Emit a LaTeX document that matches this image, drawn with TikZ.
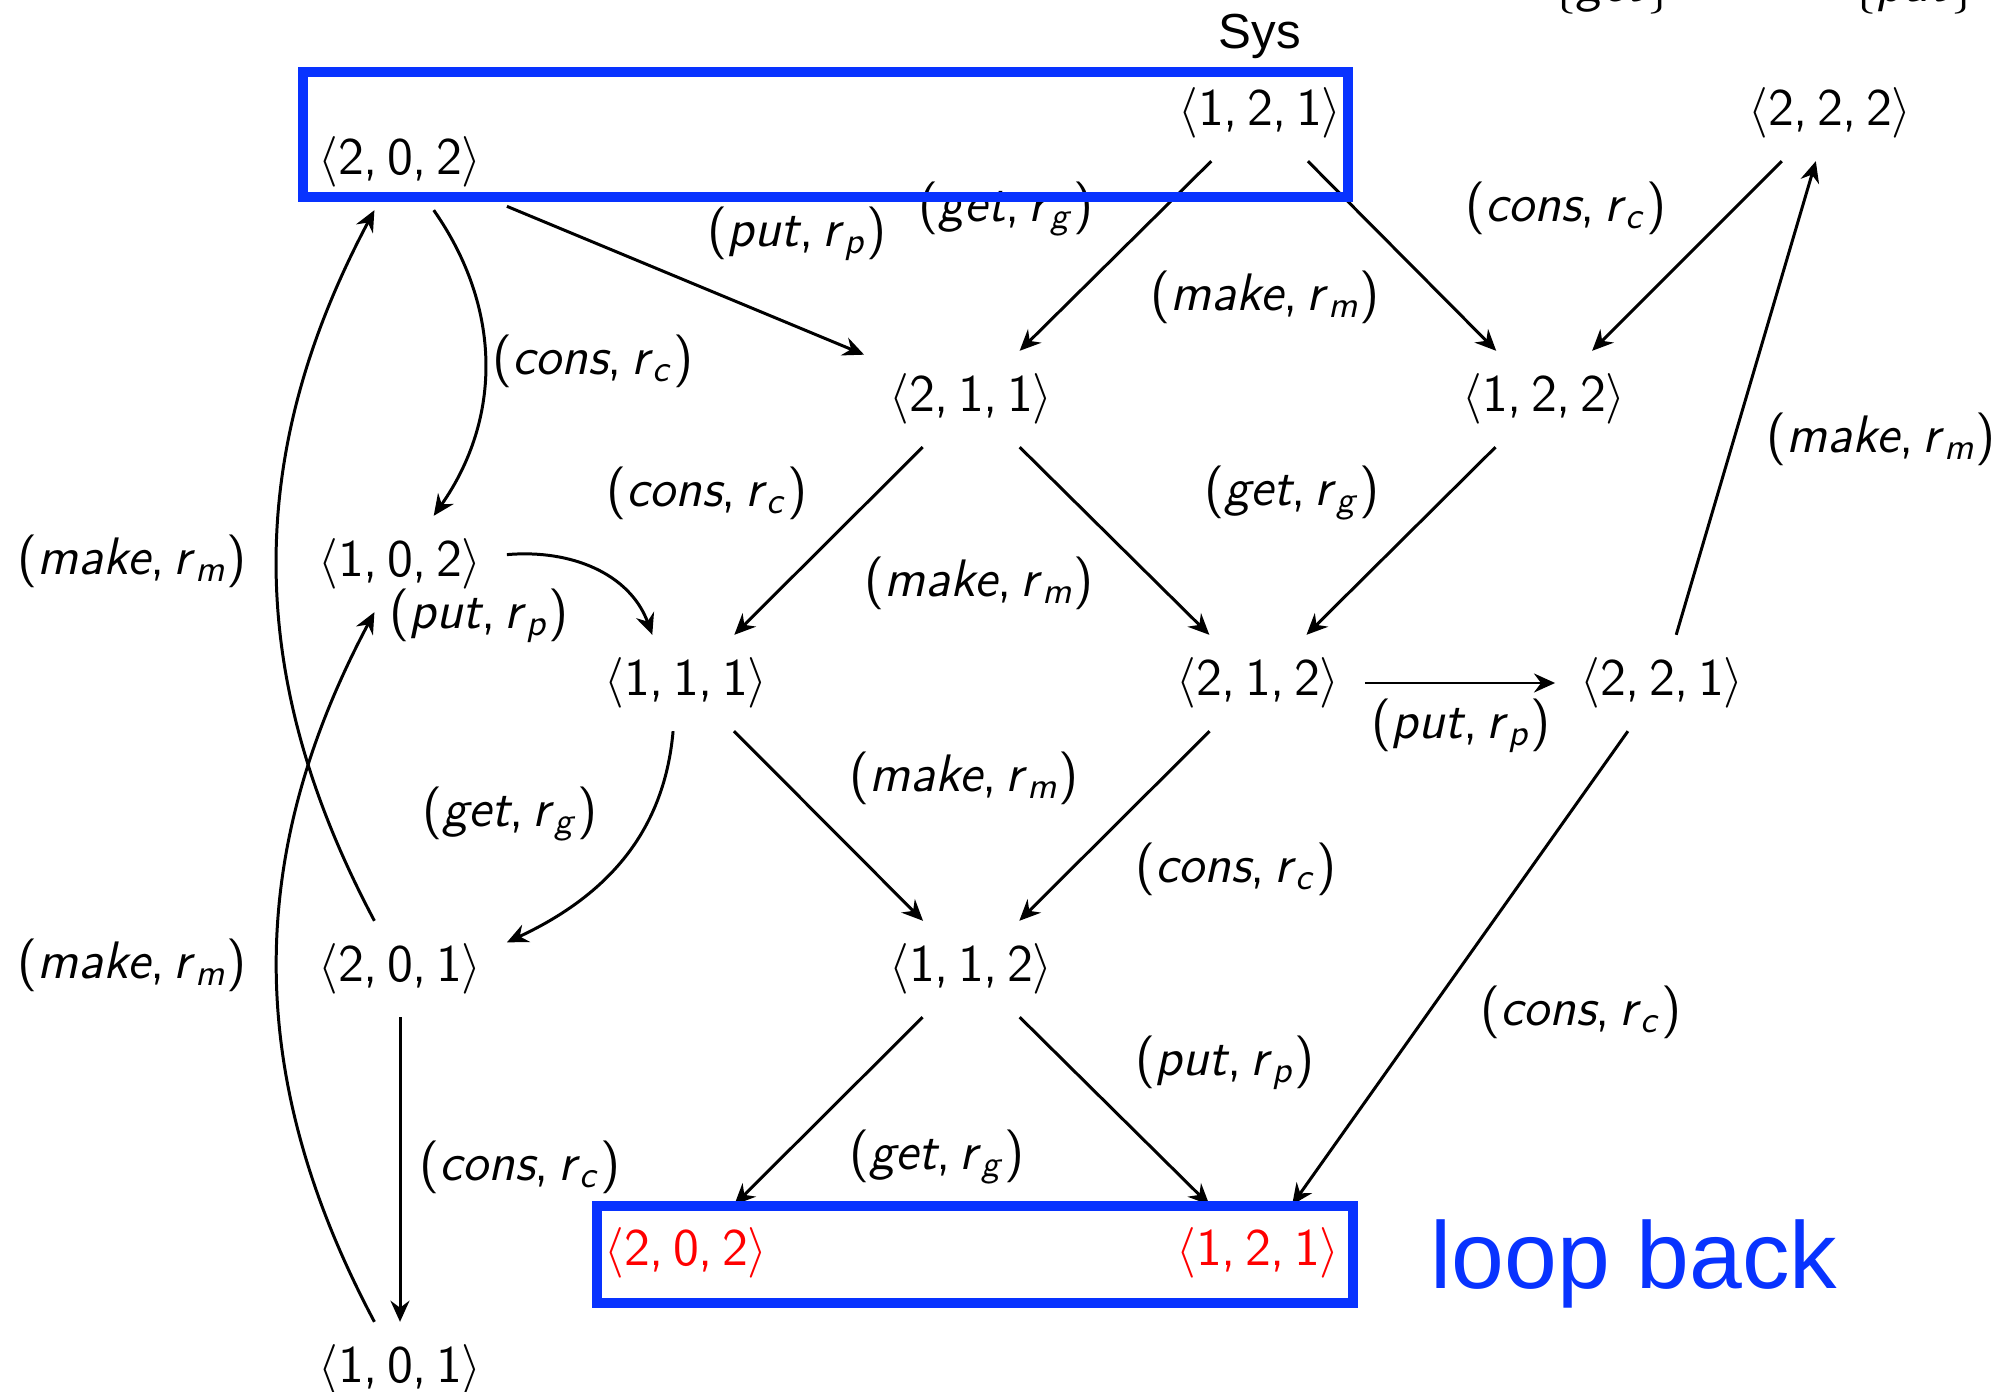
\documentclass[tikz,border=0pt]{standalone}
\usepackage{fontspec}
\usetikzlibrary{arrows.meta}
\newfontfamily\helv{Liberation Sans}
\renewcommand\familydefault{\sfdefault}
\definecolor{boxblue}{RGB}{8,51,255}
\definecolor{statered}{RGB}{255,0,0}
\newcommand{\tup}[3]{$\langle$#1,\,#2,\,#3$\rangle$}
\newcommand{\act}[2]{(\textit{#1},\,\textit{r}\textsubscript{\textit{#2}})}
\begin{document}
\begin{tikzpicture}[x=0.01cm,y=0.01cm,
  st/.style={font=\fontsize{15}{18}\selectfont, minimum height=27pt, inner xsep=7pt, inner ysep=0pt},
  redst/.style={st, text=statered},
  lab/.style={font=\fontsize{15}{18}\selectfont, inner sep=0pt},
  arr/.style={line width=0.85pt, -{Stealth[length=6pt,width=5.4pt,inset=2pt]}},
  loopbox/.style={draw=boxblue, line width=2.85pt}]
\useasboundingbox (0,-1392) rectangle (2009,0);
\clip (0,-1392) rectangle (2009,0);

% clipped texts at the top
\node[lab, anchor=base] (topget) at (1612,-2) {$\{$\textit{get}$\}$};
\node[lab, anchor=base] (topput) at (1914,-2) {$\{$\textit{put}$\}$};

\node[font=\helv\fontsize{14}{16}\selectfont, anchor=base] (sys) at (1260,-49) {Sys};

% states
\node[st] (n202t) at (400,-162) {\tup{2}{0}{2}};
\node[st] (n121t) at (1260,-113) {\tup{1}{2}{1}};
\node[st] (n222) at (1830,-113) {\tup{2}{2}{2}};
\node[st] (n211) at (971,-399) {\tup{2}{1}{1}};
\node[st] (n122) at (1544,-399) {\tup{1}{2}{2}};
\node[st] (n102) at (400,-564) {\tup{1}{0}{2}};
\node[st] (n111) at (686,-683) {\tup{1}{1}{1}};
\node[st] (n212) at (1258,-683) {\tup{2}{1}{2}};
\node[st] (n221) at (1662,-683) {\tup{2}{2}{1}};
\node[st] (n201) at (400,-969) {\tup{2}{0}{1}};
\node[st] (n112) at (971,-969) {\tup{1}{1}{2}};
\node[st] (n101) at (400,-1370) {\tup{1}{0}{1}};
\node[redst] (r202) at (686,-1253) {\tup{2}{0}{2}};
\node[redst] (r121) at (1258,-1253) {\tup{1}{2}{1}};

\node[font=\helv\fontsize{27}{30}\selectfont, text=boxblue, anchor=base] (loopback) at (1634,-1288) {loop back};

% labels
\node[lab] (l1) at (797,-234) {\act{put}{p}};
\node[lab] (l2) at (1006,-209) {\act{get}{g}};
\node[lab] (l3) at (1566,-208) {\act{cons}{c}};
\node[lab] (l4) at (1265,-297) {\act{make}{m}};
\node[lab] (l5) at (593,-361) {\act{cons}{c}};
\node[lab] (l6) at (707,-493) {\act{cons}{c}};
\node[lab] (l7) at (1292,-493) {\act{get}{g}};
\node[lab] (l8) at (1881,-439) {\act{make}{m}};
\node[lab] (l9) at (132,-561) {\act{make}{m}};
\node[lab] (l10) at (479,-616) {\act{put}{p}};
\node[lab] (l11) at (979,-583) {\act{make}{m}};
\node[lab] (l12) at (1461,-726) {\act{put}{p}};
\node[lab] (l13) at (510,-814) {\act{get}{g}};
\node[lab] (l14) at (964,-778) {\act{make}{m}};
\node[lab] (l15) at (1236,-869) {\act{cons}{c}};
\node[lab] (l16) at (132,-965) {\act{make}{m}};
\node[lab] (l17) at (1581,-1012) {\act{cons}{c}};
\node[lab] (l18) at (1225,-1063) {\act{put}{p}};
\node[lab] (l19) at (520,-1167) {\act{cons}{c}};
\node[lab] (l20) at (937,-1157) {\act{get}{g}};

% edges
\draw[arr] (n121t) -- (n211);
\draw[arr] (n121t) -- (n122);
\draw[arr] (n222) -- (n122);
\draw[arr] (n221) -- (n222);
\draw[arr] (n202t) -- (n211);
\draw[arr] (n202t) to[out=-55,in=55] (n102);
\draw[arr] (n102.5) to[out=5,in=110] (n111.125);
\draw[arr] (n211) -- (n111);
\draw[arr] (n211) -- (n212);
\draw[arr] (n122) -- (n212);
\draw[arr] (n212) -- (n221);
\draw[arr] (n111.255) to[out=-95,in=25] (n201.14);
\draw[arr] (n111) -- (n112);
\draw[arr] (n212) -- (n112);
\draw[arr] (n201) to[out=118,in=242] (n202t);
\draw[arr] (n101) to[out=118,in=242] (n102);
\draw[arr] (n201) -- (n101);
\draw[arr] (n112) -- (r202);
\draw[arr] (n112) -- (r121);
\draw[arr] (n221) -- (r121);

% loop boxes
\draw[loopbox] (303,-72) rectangle (1348,-197);
\draw[loopbox] (597,-1206) rectangle (1353,-1303);
\end{tikzpicture}
\end{document}
